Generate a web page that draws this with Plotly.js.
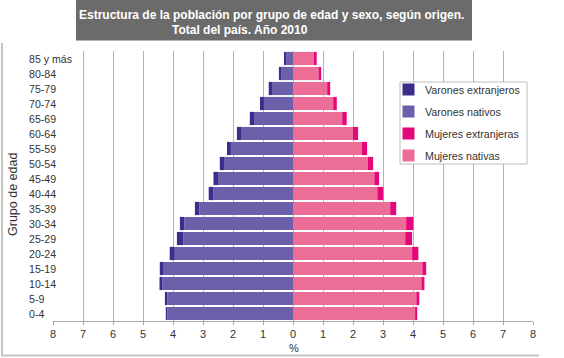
<!DOCTYPE html>
<html>
<head>
<meta charset="utf-8">
<script src="https://cdn.plot.ly/plotly-3.0.1.min.js"></script>
<style>
  html, body { margin: 0; padding: 0; background: #ffffff; }
  #chart { width: 564px; height: 358px; }
</style>
</head>
<body>
<div id="chart"></div>
<script>
// Age groups (bottom to top)
const ageGroups = ["0-4","5-9","10-14","15-19","20-24","25-29","30-34","35-39","40-44",
                   "45-49","50-54","55-59","60-64","65-69","70-74","75-79","80-84","85 y más"];

// Percent of total population
const varonesNativos      = [4.19, 4.19, 4.35, 4.31, 3.94, 3.65, 3.62, 3.12, 2.65, 2.50, 2.30, 2.07, 1.71, 1.30, 0.97, 0.70, 0.38, 0.23];
const varonesExtranjeros  = [0.05, 0.08, 0.10, 0.13, 0.17, 0.22, 0.15, 0.15, 0.16, 0.15, 0.14, 0.13, 0.16, 0.14, 0.13, 0.11, 0.09, 0.07];
const mujeresNativas      = [4.07, 4.11, 4.28, 4.31, 3.97, 3.74, 3.77, 3.24, 2.81, 2.71, 2.50, 2.30, 2.00, 1.64, 1.34, 1.14, 0.85, 0.70];
const mujeresExtranjeras  = [0.07, 0.10, 0.10, 0.13, 0.21, 0.23, 0.24, 0.20, 0.20, 0.16, 0.17, 0.17, 0.17, 0.15, 0.12, 0.10, 0.09, 0.09];

const seriesNames = ["Varones extranjeros", "Varones nativos", "Mujeres extranjeras", "Mujeres nativas"];
const seriesColors = ["#3a2d8c", "#6e5faa", "#e2087a", "#ec6e96"];

const xTickVals = [-8,-7,-6,-5,-4,-3,-2,-1,0,1,2,3,4,5,6,7,8];
const xTickText = ["8","7","6","5","4","3","2","1","0","1","2","3","4","5","6","7","8"];
const gridVals  = [-7,-6,-5,-4,-3,-2,-1,0,1,2,3,4,5,6,7,8];

const titleLine1 = "Estructura de la población por grupo de edad y sexo, según origen.";
const titleLine2 = "Total del país. Año 2010";
const yTitle = "Grupo de edad";
const xTitle = "%";

const neg = a => a.map(v => -v);

const traces = [
  { name: seriesNames[1], y: ageGroups, x: neg(varonesNativos), color: seriesColors[1] },
  { name: seriesNames[0], y: ageGroups, x: neg(varonesExtranjeros), color: seriesColors[0] },
  { name: seriesNames[3], y: ageGroups, x: mujeresNativas, color: seriesColors[3] },
  { name: seriesNames[2], y: ageGroups, x: mujeresExtranjeras, color: seriesColors[2] }
].map(t => ({
  type: "bar", orientation: "h", name: t.name, x: t.x, y: t.y,
  marker: { color: t.color, line: { width: 0 } },
  showlegend: false, hoverinfo: "skip"
}));

// Geometry helpers (pixels -> paper)
const W = 564, H = 358;
const L = 53, R = 31, T = 51, B = 37;
const pw = W - L - R, ph = H - T - B;
const px = v => (v - L) / pw;
const py = v => (H - B - v) / ph;

const font = "Arial, 'Liberation Sans', sans-serif";
const txt = "#333333";

const shapes = [];
const annotations = [];

// title box
shapes.push({ type: "rect", xref: "paper", yref: "paper", x0: px(76), x1: px(472), y0: py(0), y1: py(40.5),
  fillcolor: "#6b6b6b", line: { width: 0 }, layer: "above" });
annotations.push({ xref: "paper", yref: "paper", x: px(77), y: py(15), xanchor: "left", yanchor: "middle",
  text: "<b>" + titleLine1 + "</b>", showarrow: false, font: { family: font, size: 12, color: "#ffffff" } });
annotations.push({ xref: "paper", yref: "paper", x: px(170), y: py(30), xanchor: "left", yanchor: "middle",
  text: "<b>" + titleLine2 + "</b>", showarrow: false, font: { family: font, size: 12, color: "#ffffff" } });

// outer frame (left + bottom)
shapes.push({ type: "line", xref: "paper", yref: "paper", x0: px(2), x1: px(2), y0: py(43), y1: py(356),
  line: { color: "#c4c4c4", width: 2 } });
shapes.push({ type: "line", xref: "paper", yref: "paper", x0: px(1), x1: px(539), y0: py(355.5), y1: py(355.5),
  line: { color: "#c4c4c4", width: 2 } });

// y category labels (left aligned)
ageGroups.forEach(g => annotations.push({ xref: "paper", yref: "y", x: px(27), y: g, xanchor: "left", yanchor: "middle",
  text: g, showarrow: false, font: { family: font, size: 10.6, color: txt } }));

// axis titles
annotations.push({ xref: "paper", yref: "paper", x: px(13), y: py(195), textangle: -90, xanchor: "center", yanchor: "middle",
  text: yTitle, showarrow: false, font: { family: font, size: 12.5, color: txt } });
annotations.push({ xref: "paper", yref: "paper", x: px(294), y: py(348), xanchor: "center", yanchor: "middle",
  text: xTitle, showarrow: false, font: { family: font, size: 11, color: txt } });

// legend
const lgX0 = 400, lgX1 = 527, lgY0 = 82, lgY1 = 164;
shapes.push({ type: "rect", xref: "paper", yref: "paper", x0: px(lgX0), x1: px(lgX1), y0: py(lgY0), y1: py(lgY1),
  fillcolor: "#ffffff", line: { color: "#bdbdbd", width: 1 }, layer: "above" });
const rowY = [89.5, 111.5, 133.5, 155.5];
seriesNames.forEach((n, i) => {
  shapes.push({ type: "rect", xref: "paper", yref: "paper", x0: px(402.5), x1: px(414.5), y0: py(rowY[i] - 6), y1: py(rowY[i] + 6),
    fillcolor: seriesColors[i], line: { width: 0 }, layer: "above" });
  annotations.push({ xref: "paper", yref: "paper", x: px(423), y: py(rowY[i]), xanchor: "left", yanchor: "middle",
    text: n, showarrow: false, font: { family: font, size: 10.7, color: txt } });
});

const layout = {
  width: W, height: H,
  margin: { l: L, r: R, t: T, b: B, pad: 0 },
  paper_bgcolor: "#ffffff", plot_bgcolor: "#ffffff",
  barmode: "relative", bargap: 0.12,
  showlegend: false,
  xaxis: {
    range: [-8, 8], tickvals: xTickVals, ticktext: xTickText,
    showgrid: false, zeroline: false,
    showline: true, linecolor: "#a8a8a8", linewidth: 1,
    ticks: "outside", ticklen: 3, tickcolor: "#a8a8a8",
    tickfont: { family: font, size: 11, color: txt },
    minor: { tickvals: gridVals, showgrid: true, gridcolor: "#b4b4b4", gridwidth: 1, ticks: "" },
    fixedrange: true
  },
  yaxis: {
    type: "category", categoryorder: "array", categoryarray: ageGroups,
    range: [-0.5, ageGroups.length - 0.5],
    showticklabels: false, showgrid: false, zeroline: false, showline: false, ticks: "",
    fixedrange: true
  },
  shapes: shapes,
  annotations: annotations
};

Plotly.newPlot("chart", traces, layout, { displayModeBar: false, staticPlot: true });
</script>
</body>
</html>
